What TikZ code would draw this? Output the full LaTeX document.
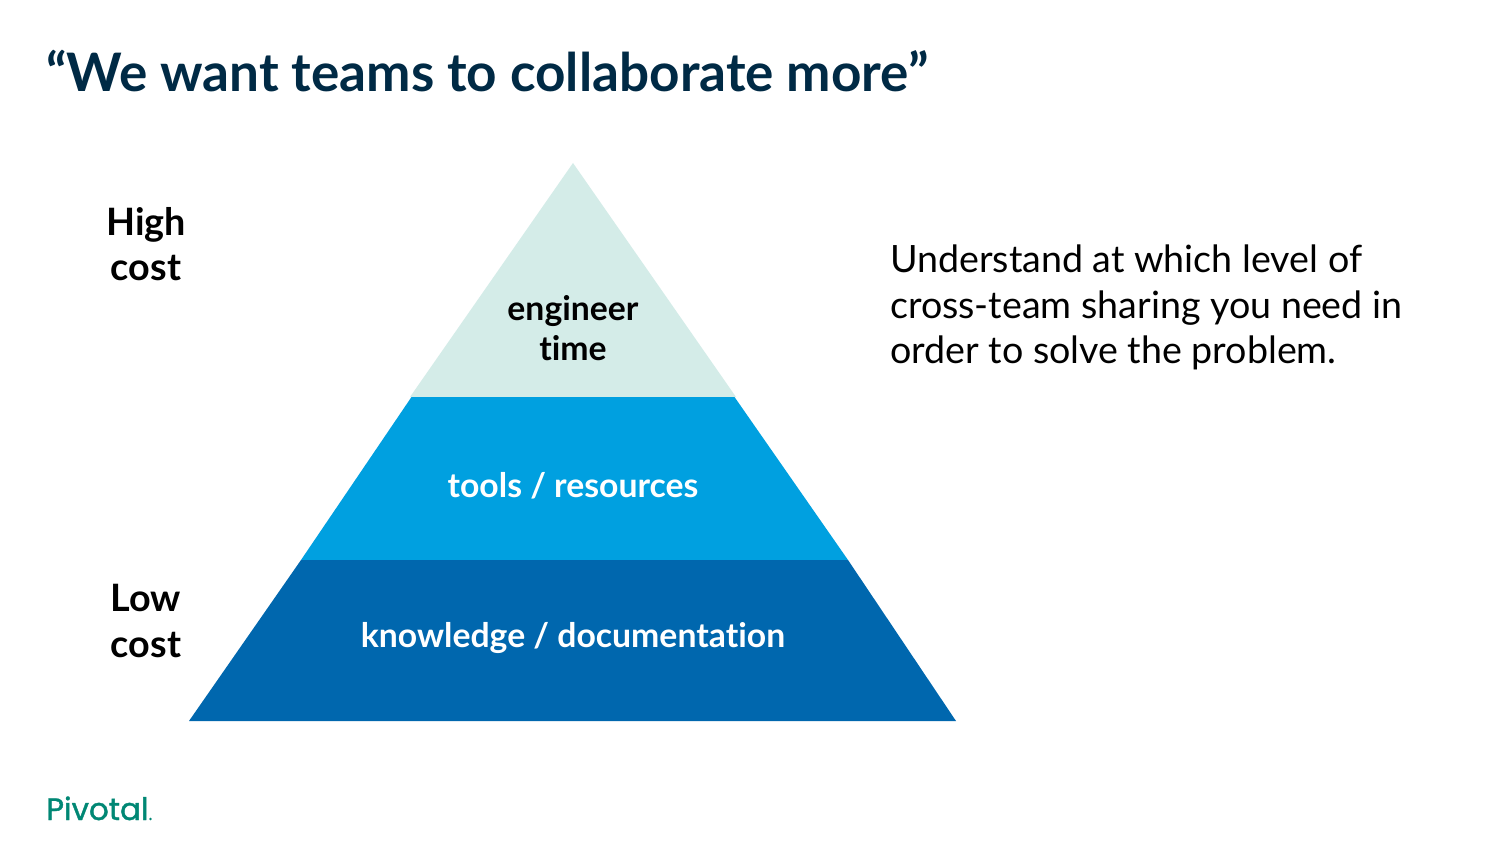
\documentclass[tikz,border=0pt]{standalone}
\usepackage{fontspec}
\setmainfont[Ligatures=NoCommon]{Lato}
\newfontfamily\logofont[FakeBold=1.2]{Poppins}
\definecolor{navy}{HTML}{002A45}
\definecolor{pale}{HTML}{D4ECE8}
\definecolor{midb}{HTML}{00A0E0}
\definecolor{deepb}{HTML}{0067AE}
\definecolor{pgreen}{HTML}{008774}
\tikzset{
  px/.style={x=0.05cm,y=-0.05cm},
  lbl/.style={font=\fontsize{48pt}{56.7pt}\selectfont\bfseries,align=center,inner sep=0pt},
  sidelbl/.style={font=\fontsize{53.7pt}{65pt}\selectfont\bfseries,align=center,inner sep=0pt,text=black}
}
\begin{document}
\begin{tikzpicture}[px]
\useasboundingbox (0,0) rectangle (1500,844);
\fill[white] (0,0) rectangle (1500,844);
\node[anchor=base west,inner sep=0pt,text=navy,font=\fontsize{75.5pt}{80pt}\selectfont\bfseries] (title) at (46,92) {“We want teams to collaborate more”};
\fill[pale] (573,163) -- (736,397) -- (410,397) -- cycle;
\fill[midb] (411.5,397) -- (734.5,397) -- (848,560) -- (301,560) -- cycle;
\fill[deepb] (301,560) -- (848,560) -- (956,721) -- (189,721) -- cycle;
\node[anchor=center,lbl,text=black] (eng) at (573,328) {engineer\\time};
\node[anchor=center,lbl,text=white] (tools) at (573,486) {tools / resources};
\node[anchor=center,lbl,text=white] (know) at (573,638) {knowledge / documentation};
\node[sidelbl] (high) at (146,244) {High\\cost};
\node[sidelbl] (low) at (146,621) {Low\\cost};
\node[anchor=north west,inner sep=0pt,align=left,text=black,font=\fontsize{53.5pt}{64.5pt}\selectfont] (desc) at (890,245) {Understand at which level of\\cross-team sharing you need in\\order to solve the problem.};
\node[anchor=base west,inner sep=0pt,text=pgreen,font=\logofont\fontsize{44pt}{48pt}\selectfont] (logo) at (46,820) {Pivotal};
\fill[pgreen] (150.5,819) circle (1.4);
\end{tikzpicture}
\end{document}
